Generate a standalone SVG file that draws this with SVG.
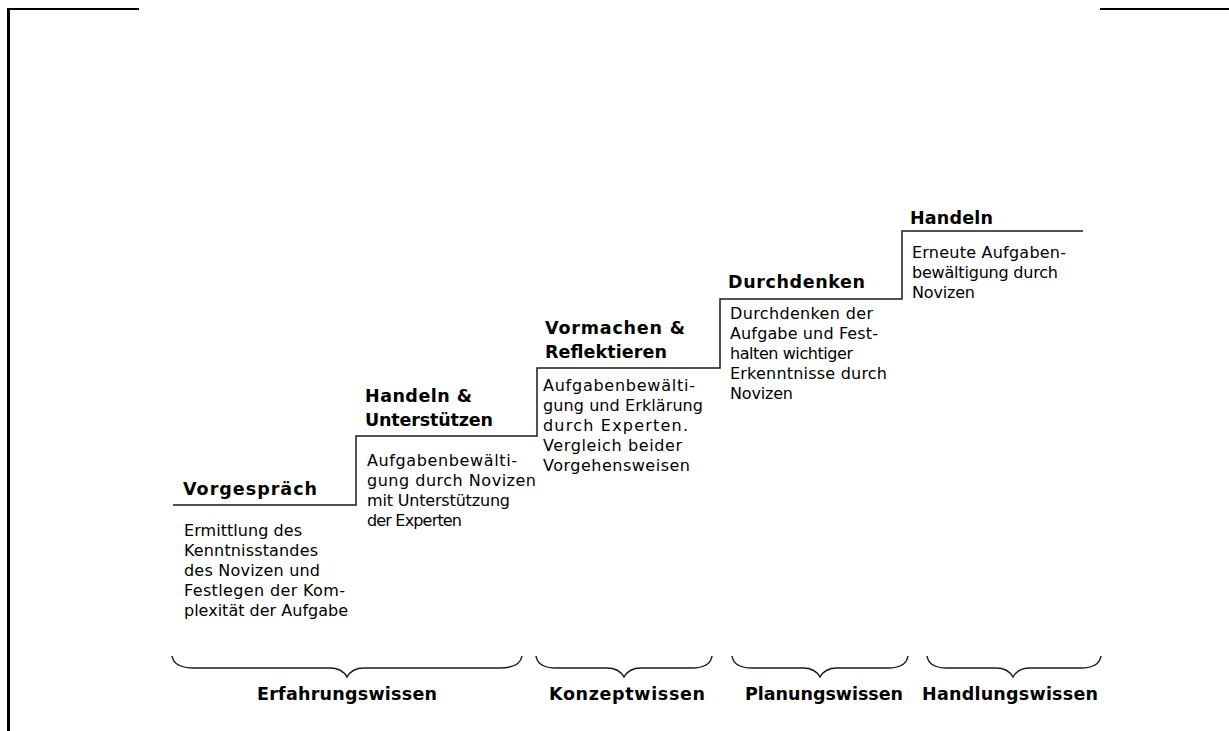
<svg xmlns="http://www.w3.org/2000/svg" width="1229" height="731" viewBox="0 0 1229 731">
<style>
.h{font-family:"DejaVu Sans","Liberation Sans",sans-serif;font-weight:bold;font-size:17.5px;fill:#000}
.b{font-family:"DejaVu Sans","Liberation Sans",sans-serif;font-size:16px;fill:#000}
.ln{fill:none;stroke:#1a1a1a;stroke-width:1.5}
.fr{fill:none;stroke:#000}
</style>
<rect width="1229" height="731" fill="#fff"/>
<g id="frame">
<path class="fr" d="M8.5,731 V9" stroke-width="3"/>
<path class="fr" d="M7,9 H139" stroke-width="2"/>
<path class="fr" d="M1100,9 H1229" stroke-width="2"/>
</g>
<g id="connectors">
<path class="ln" d="M173,505 H356 V436 H537 V368 H720 V299 H902 V231 H1083"/>
</g>
<g id="vorgespraech">
<text class="h" x="183" y="495" textLength="134">Vorgespräch</text>
<text class="b" x="184" y="536" textLength="118">Ermittlung des</text>
<text class="b" x="184" y="556" textLength="134">Kenntnisstandes</text>
<text class="b" x="184" y="576" textLength="136">des Novizen und</text>
<text class="b" x="184" y="596" textLength="161">Festlegen der Kom-</text>
<text class="b" x="184" y="616" textLength="164">plexität der Aufgabe</text>
</g>
<g id="handeln-unterstuetzen">
<text class="h" x="365" y="402" textLength="107">Handeln &amp;</text>
<text class="h" x="365" y="426" textLength="128">Unterstützen</text>
<text class="b" x="367" y="466" textLength="150">Aufgabenbewälti-</text>
<text class="b" x="367" y="486" textLength="169">gung durch Novizen</text>
<text class="b" x="367" y="506" textLength="143">mit Unterstützung</text>
<text class="b" x="367" y="526" textLength="95">der Experten</text>
</g>
<g id="vormachen-reflektieren">
<text class="h" x="545" y="334" textLength="140">Vormachen &amp;</text>
<text class="h" x="545" y="358" textLength="122">Reflektieren</text>
<text class="b" x="543" y="391" textLength="152">Aufgabenbewälti-</text>
<text class="b" x="543" y="411" textLength="160">gung und Erklärung</text>
<text class="b" x="543" y="431" textLength="145">durch Experten.</text>
<text class="b" x="543" y="451" textLength="139">Vergleich beider</text>
<text class="b" x="543" y="471" textLength="147">Vorgehensweisen</text>
</g>
<g id="durchdenken">
<text class="h" x="728" y="288" textLength="137">Durchdenken</text>
<text class="b" x="730" y="319" textLength="143">Durchdenken der</text>
<text class="b" x="730" y="339" textLength="148">Aufgabe und Fest-</text>
<text class="b" x="730" y="359" textLength="123">halten wichtiger</text>
<text class="b" x="730" y="379" textLength="157">Erkenntnisse durch</text>
<text class="b" x="730" y="399" textLength="63">Novizen</text>
</g>
<g id="handeln">
<text class="h" x="910" y="224" textLength="83">Handeln</text>
<text class="b" x="912" y="258" textLength="154">Erneute Aufgaben-</text>
<text class="b" x="912" y="278" textLength="146">bewältigung durch</text>
<text class="b" x="912" y="298" textLength="63">Novizen</text>
</g>
<g id="braces">
<path class="ln" d="M172,656 Q174,668 194,668 L330,668 Q342,668 347,677 Q352,668 364,668 L500,668 Q520,668 522,656"/>
<path class="ln" d="M536,656 Q538,668 556,668 L607,668 Q619,668 624,677 Q629,668 641,668 L692,668 Q710,668 712,656"/>
<path class="ln" d="M732,656 Q734,668 752,668 L803,668 Q815,668 820,677 Q825,668 837,668 L888,668 Q906,668 908,656"/>
<path class="ln" d="M927,656 Q929,668 947,668 L996,668 Q1008,668 1013,677 Q1018,668 1030,668 L1081,668 Q1099,668 1101,656"/>
</g>
<g id="erfahrungswissen"><text class="h" x="257" y="700" textLength="180">Erfahrungswissen</text></g>
<g id="konzeptwissen"><text class="h" x="549" y="700" textLength="156">Konzeptwissen</text></g>
<g id="planungswissen"><text class="h" x="745" y="700" textLength="158">Planungswissen</text></g>
<g id="handlungswissen"><text class="h" x="922" y="700" textLength="176">Handlungswissen</text></g>
</svg>
